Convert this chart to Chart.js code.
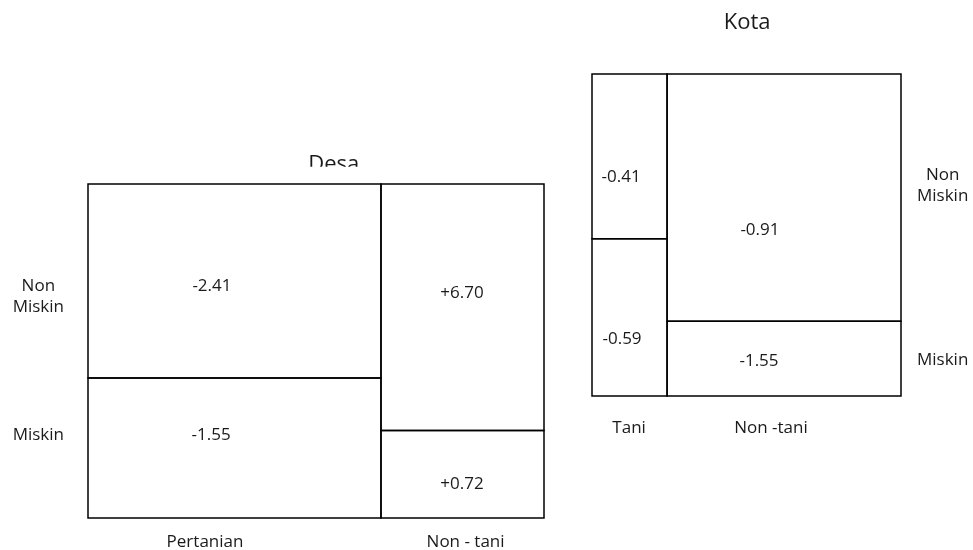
<!DOCTYPE html>
<html>
<head>
<meta charset="utf-8">
<script src="https://cdn.jsdelivr.net/npm/chart.js@4.4.0/dist/chart.umd.min.js"></script>
<style>
    html, body { margin: 0; padding: 0; background: #fff; }
    body { width: 973px; height: 550px; position: relative; overflow: hidden; }
    .panel { position: absolute; }
    #desa-box { left: 0; top: 130px; width: 560px; height: 430px; }
    #kota-box { left: 540px; top: 0; width: 433px; height: 460px; }
</style>
</head>
<body>
<div class="panel" id="desa-box"><canvas id="chart-desa"></canvas></div>
<div class="panel" id="kota-box"><canvas id="chart-kota"></canvas></div>
<script>
// Mosaic Desa / Kota: lebar kolom = porsi sektor, tinggi = porsi non miskin
const rowLabels = ['Miskin', ['Non', 'Miskin']];

// Desa
const desaColumns = ['Pertanian', 'Non - tani'];
const desaColShare = [0.6425, 0.3575];
const desaNonMiskinShare = [0.581, 0.738];
const desaNonMiskinValues = [-2.41, 6.70];
const desaMiskinValues = [-1.55, 0.72];

// Kota
const kotaColumns = ['Tani', 'Non -tani'];
const kotaColShare = [0.243, 0.757];
const kotaNonMiskinShare = [0.5115, 0.768];
const kotaNonMiskinValues = [-0.41, -0.91];
const kotaMiskinValues = [-0.59, -1.55];

// posisi label (pecahan sumbu / sel), disetel ke gambar acuan
// kanvas Desa sengaja lebih tinggi dari jendela: padding tick sumbu y ikut menahan tepi bawah
const desaLayout = {
    rowTickAt: [0.2485, 0.663],
    colTickAt: [0.2566, 0.828],
    valueAt: [[0.423, 0.526], [0.42, 0.407], [0.497, 0.441], [0.497, 0.609]],
    titleX: 0.539, titleBaseline: 13, titleClip: 17.3,
    yPosition: 'left', yWidth: 88, yPadding: 24,
    xHeight: 42, xPadding: 13.5,
    padding: { top: 54, left: 0, right: 16, bottom: 0 }
};
const kotaLayout = {
    rowTickAt: [0.112, 0.654],
    colTickAt: [0.12, 0.579],
    valueAt: [[0.387, 0.625], [0.4, 0.638], [0.397, 0.631], [0.393, 0.54]],
    titleX: 0.502, titleBaseline: 45, titleClip: null,
    yPosition: 'right', yWidth: 72, yPadding: 16,
    xHeight: 64, xPadding: 22.3,
    padding: { top: 74, left: 52, right: 0, bottom: 0 }
};

Chart.defaults.font.family = "'Open Sans', sans-serif";
Chart.defaults.font.size = 17;
Chart.defaults.color = '#1a1a1a';

function fmt(v) {
    return (v > 0 ? '+' : '') + v.toFixed(2);
}

function buildCells(colShare, nmShare, nmValues, mValues) {
    const cells = [];
    let x0 = 0;
    colShare.forEach((w, i) => {
        const split = 1 - nmShare[i];
        cells.push({ x0: x0, x1: x0 + w, y0: split, y1: 1, text: fmt(nmValues[i]) });
        cells.push({ x0: x0, x1: x0 + w, y0: 0, y1: split, text: fmt(mValues[i]) });
        x0 += w;
    });
    return cells;
}

function createMosaic(canvasId, title, columns, cells, lay) {
    const ctx = document.getElementById(canvasId);

    const datasets = cells.map(c => ({
        data: [
            { x: c.x0, y: c.y0 }, { x: c.x1, y: c.y0 },
            { x: c.x1, y: c.y1 }, { x: c.x0, y: c.y1 },
            { x: c.x0, y: c.y0 }
        ],
        showLine: true,
        borderColor: '#000',
        borderWidth: 1.5,
        borderJoinStyle: 'miter',
        borderCapStyle: 'square',
        pointRadius: 0,
        fill: false,
        tension: 0,
        clip: false
    }));

    // angka di dalam sel
    const cellValues = {
        id: 'cellValues',
        afterDatasetsDraw(chart) {
            const { ctx, scales: { x, y } } = chart;
            ctx.save();
            ctx.font = "17px 'Open Sans'";
            ctx.fillStyle = '#1a1a1a';
            ctx.textAlign = 'center';
            ctx.textBaseline = 'middle';
            cells.forEach((c, i) => {
                const [fx, fy] = lay.valueAt[i];
                const px = x.getPixelForValue(c.x0 + fx * (c.x1 - c.x0));
                const py = y.getPixelForValue(c.y1 - fy * (c.y1 - c.y0));
                ctx.fillText(c.text, px, py);
            });
            ctx.restore();
        }
    };

    // judul panel (Desa terpotong oleh kotak, seperti di acuan)
    const panelTitle = {
        id: 'panelTitle',
        afterDraw(chart) {
            const { ctx, chartArea, scales: { x } } = chart;
            ctx.save();
            if (lay.titleClip !== null) {
                ctx.beginPath();
                ctx.rect(0, 0, chart.width, chartArea.top - lay.titleClip);
                ctx.clip();
            }
            ctx.font = "22px 'Open Sans'";
            ctx.fillStyle = '#1a1a1a';
            ctx.textAlign = 'center';
            ctx.textBaseline = 'alphabetic';
            ctx.fillText(title, x.getPixelForValue(lay.titleX), chartArea.top - lay.titleBaseline);
            ctx.restore();
        }
    };

    return new Chart(ctx, {
        type: 'scatter',
        data: { datasets: datasets },
        options: {
            responsive: true,
            maintainAspectRatio: false,
            animation: false,
            layout: { padding: lay.padding },
            plugins: {
                legend: { display: false },
                tooltip: { enabled: false }
            },
            scales: {
                x: {
                    type: 'linear',
                    min: 0,
                    max: 1,
                    grid: { display: false, drawTicks: false },
                    border: { display: false },
                    afterBuildTicks: s => { s.ticks = lay.colTickAt.map(v => ({ value: v })); },
                    afterFit: s => { s.height = lay.xHeight; },
                    ticks: {
                        padding: lay.xPadding,
                        autoSkip: false,
                        maxRotation: 0,
                        callback: (v, i) => columns[i]
                    }
                },
                y: {
                    type: 'linear',
                    position: lay.yPosition,
                    min: 0,
                    max: 1,
                    grid: { display: false, drawTicks: false },
                    border: { display: false },
                    afterBuildTicks: s => { s.ticks = lay.rowTickAt.map(v => ({ value: v })); },
                    afterFit: s => { s.width = lay.yWidth; },
                    ticks: {
                        padding: lay.yPadding,
                        crossAlign: 'center',
                        autoSkip: false,
                        font: { size: 17, lineHeight: 1.25 },
                        callback: (v, i) => rowLabels[i]
                    }
                }
            }
        },
        plugins: [cellValues, panelTitle]
    });
}

createMosaic('chart-desa', 'Desa', desaColumns,
    buildCells(desaColShare, desaNonMiskinShare, desaNonMiskinValues, desaMiskinValues), desaLayout);
createMosaic('chart-kota', 'Kota', kotaColumns,
    buildCells(kotaColShare, kotaNonMiskinShare, kotaNonMiskinValues, kotaMiskinValues), kotaLayout);
</script>
</body>
</html>
